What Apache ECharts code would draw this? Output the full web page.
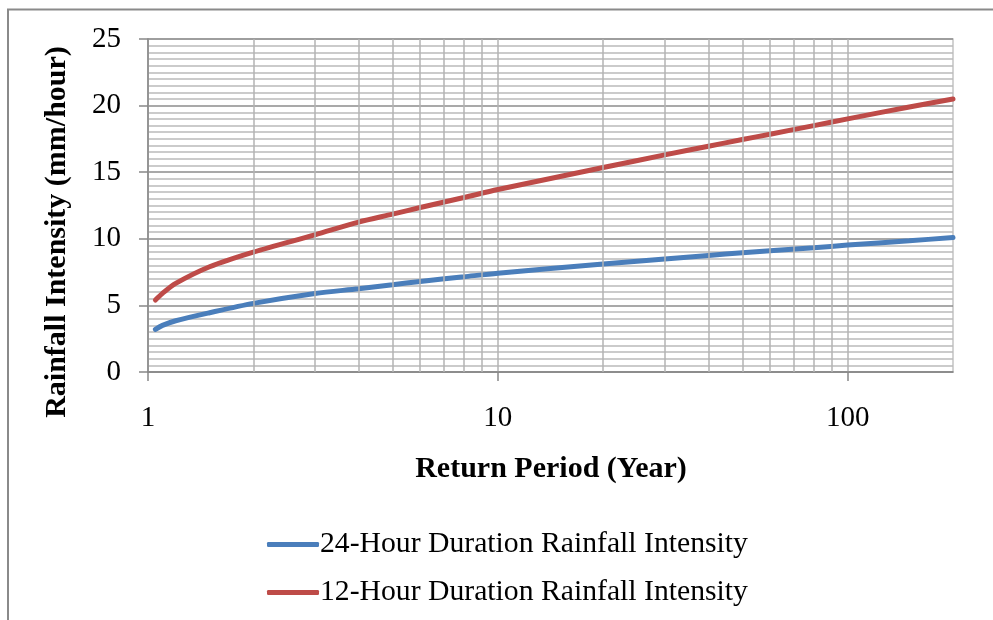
<!DOCTYPE html>
<html>
<head>
<meta charset="utf-8">
<script src="https://cdn.jsdelivr.net/npm/echarts@6/dist/echarts.min.js"></script>
<style>
  html, body { margin: 0; padding: 0; background: #fff; }
  #chart { width: 993px; height: 620px; }
</style>
</head>
<body>
<div id="chart"></div>
<script>
// Return periods (years) on a logarithmic axis
const returnPeriods = [1.05, 1.1, 1.2, 1.5, 2, 3, 4, 5, 6, 8, 10, 20, 30, 40, 50, 60, 80, 100, 150, 200];
// Rainfall intensity (mm/hour)
const intensity24h = [3.2, 3.5, 3.85, 4.45, 5.15, 5.9, 6.25, 6.55, 6.8, 7.15, 7.42, 8.1, 8.48, 8.75, 8.95, 9.1, 9.33, 9.53, 9.85, 10.1];
const intensity12h = [5.4, 5.9, 6.65, 7.9, 9.0, 10.3, 11.25, 11.85, 12.35, 13.1, 13.7, 15.35, 16.3, 16.95, 17.45, 17.85, 18.5, 19.0, 19.9, 20.5];
const seriesNames = ['24-Hour Duration Rainfall Intensity', '12-Hour Duration Rainfall Intensity'];
// Labelled decades and the minor vertical grid positions between them
const xTickValues = [1, 10, 100];
const minorXGrid = [2, 3, 4, 5, 6, 7, 8, 9, 20, 30, 40, 50, 60, 70, 80, 90];
const xTitle = 'Return Period (Year)';
const yTitle = 'Rainfall Intensity (mm/hour)';

const FONT = '"Liberation Serif", "Times New Roman", serif';
const pairs = (ys) => returnPeriods.map((t, i) => [t, ys[i]]);

const chart = echarts.init(document.getElementById('chart'), null, { renderer: 'canvas' });
chart.setOption({
  animation: false,
  backgroundColor: '#ffffff',
  grid: {
    left: 148, top: 39, right: 40, bottom: 248,
    show: true, borderColor: '#c4c4c4', borderWidth: 1.5
  },
  xAxis: {
    type: 'log', logBase: 10, min: 1, max: 200,
    axisLine: { show: true, lineStyle: { color: '#888888', width: 1.5 } },
    axisTick: { show: true, inside: false, length: 9, customValues: xTickValues, lineStyle: { color: '#888888', width: 1.5 } },
    axisLabel: { color: '#000', fontFamily: FONT, fontSize: 29, margin: 32, customValues: xTickValues },
    splitLine: { show: true, lineStyle: { color: '#b3b3b3', width: 1.5 } },
    minorTick: { show: false },
    minorSplitLine: { show: false }
  },
  yAxis: {
    type: 'value', min: 0, max: 25, interval: 5,
    axisLine: { show: true, lineStyle: { color: '#888888', width: 1.5 } },
    axisTick: { show: true, inside: false, length: 9, lineStyle: { color: '#888888', width: 1.5 } },
    axisLabel: { color: '#000', fontFamily: FONT, fontSize: 29, margin: 27 },
    splitLine: { show: true, lineStyle: { color: '#8c8c8c', width: 1.5 } },
    minorTick: { show: false, splitNumber: 10 },
    minorSplitLine: { show: true, lineStyle: { color: '#bababa', width: 1.5 } }
  },
  legend: {
    data: seriesNames,
    orient: 'vertical',
    left: 262, top: 524,
    icon: 'roundRect',
    itemWidth: 52, itemHeight: 5, itemGap: 17,
    textStyle: { color: '#000', fontFamily: FONT, fontSize: 29.7, lineHeight: 31, padding: [0, 0, 0, -4] }
  },
  series: [
    {
      name: 'grid-minor-x',
      type: 'line',
      data: [],
      z: 1,
      silent: true,
      markLine: {
        silent: true,
        symbol: 'none',
        label: { show: false },
        lineStyle: { color: '#b3b3b3', width: 1.5, type: 'solid' },
        data: minorXGrid.map(v => ({ xAxis: v }))
      }
    },
    {
      name: seriesNames[0],
      type: 'line',
      data: pairs(intensity24h),
      showSymbol: false,
      smooth: 0.3,
      z: 3,
      color: '#4a7ebb',
      lineStyle: { color: '#4a7ebb', width: 5, cap: 'round' }
    },
    {
      name: seriesNames[1],
      type: 'line',
      data: pairs(intensity12h),
      showSymbol: false,
      smooth: 0.3,
      z: 3,
      color: '#be4b48',
      lineStyle: { color: '#be4b48', width: 5, cap: 'round' }
    }
  ],
  graphic: [
    {
      type: 'rect', z: -1, silent: true,
      shape: { x: 8, y: 9.5, width: 1100, height: 800 },
      style: { fill: 'none', stroke: '#8a8a8a', lineWidth: 2 }
    },
    {
      type: 'text', x: 551, y: 469,
      style: { text: xTitle, font: 'bold 30px ' + FONT, fill: '#000', textAlign: 'center', textVerticalAlign: 'middle' }
    },
    {
      type: 'text', x: 57, y: 232, rotation: Math.PI / 2,
      style: { text: yTitle, font: 'bold 30px ' + FONT, fill: '#000', textAlign: 'center', textVerticalAlign: 'middle' }
    }
  ]
});
</script>
</body>
</html>
